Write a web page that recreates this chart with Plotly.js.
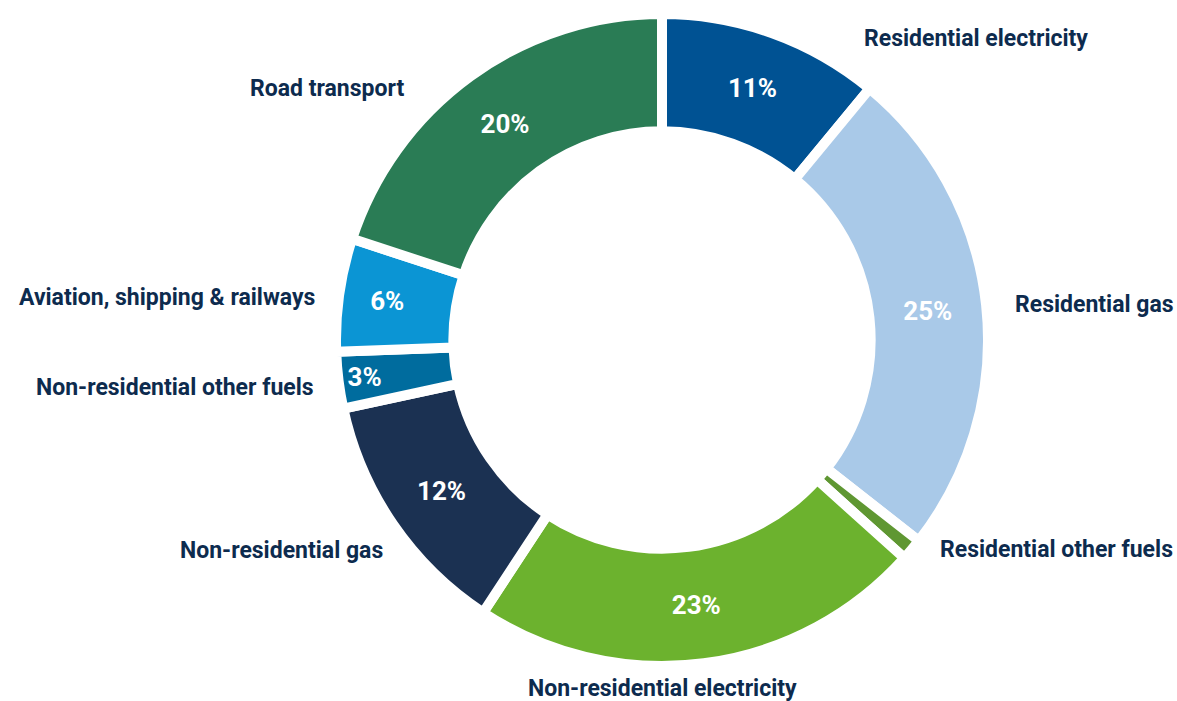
<!DOCTYPE html>
<html>
<head>
<meta charset="utf-8">
<script src="https://cdn.plot.ly/plotly-3.0.1.min.js"></script>
<style>
  html, body { margin: 0; padding: 0; background: #ffffff; }
  #chart { width: 1177px; height: 701px; }
</style>
</head>
<body>
<div id="chart"></div>
<script>
// ---- data ----
const categories = [
  "Residential electricity",
  "Residential gas",
  "Residential other fuels",
  "Non-residential electricity",
  "Non-residential gas",
  "Non-residential other fuels",
  "Aviation, shipping & railways",
  "Road transport"
];
const shares = [11.0, 24.6, 1.1, 22.6, 12.4, 2.8, 5.6, 20.0];
const sliceColors = ["#005293", "#a9c9e8", "#5f9732", "#6cb22e", "#1b3152", "#006c9e", "#0b95d4", "#2a7c55"];

// label placement (pixel anchor positions, style only)
const labelPos = [
  {x: 862, y: 38, anchor: "left"},
  {x: 1013, y: 304, anchor: "left"},
  {x: 938, y: 549, anchor: "left"},
  {x: 662, y: 689, anchor: "center"},
  {x: 385, y: 550, anchor: "right"},
  {x: 316, y: 387, anchor: "right"},
  {x: 317, y: 298, anchor: "right"},
  {x: 406, y: 88, anchor: "right"}
];

const W = 1177, H = 701;
const M = {l: 147, r: 0, t: 14, b: 35};
const total = shares.reduce((a, b) => a + b, 0);
const pctText = shares.map(v => (v / total * 100 >= 1.5) ? Math.round(v / total * 100) + "%" : "");

const trace = {
  type: "pie",
  labels: categories,
  values: shares,
  text: pctText,
  textinfo: "text",
  textposition: "inside",
  insidetextorientation: "horizontal",
  insidetextfont: {family: "Roboto, 'DejaVu Sans', sans-serif", size: 26, color: "#ffffff", weight: "bold"},
  hole: 0.64,
  sort: false,
  direction: "clockwise",
  rotation: 0,
  marker: {colors: sliceColors, line: {color: "#ffffff", width: 10}},
  hoverinfo: "label+percent",
  showlegend: false
};

const toPaperX = px => (px - M.l) / (W - M.l - M.r);
const toPaperY = py => 1 - (py - M.t) / (H - M.t - M.b);

const annotations = categories.map((c, i) => ({
  text: "<b>" + c.replace("&", "&amp;") + "</b>",
  xref: "paper", yref: "paper",
  x: toPaperX(labelPos[i].x),
  y: toPaperY(labelPos[i].y),
  xanchor: labelPos[i].anchor,
  yanchor: "middle",
  showarrow: false,
  font: {family: "Roboto, 'DejaVu Sans', sans-serif", size: 23, color: "#0d2b4e"}
}));

const layout = {
  width: W, height: H,
  margin: M,
  paper_bgcolor: "#ffffff",
  plot_bgcolor: "#ffffff",
  showlegend: false,
  annotations: annotations
};

Plotly.newPlot("chart", [trace], layout, {displayModeBar: false, staticPlot: true});
</script>
</body>
</html>
